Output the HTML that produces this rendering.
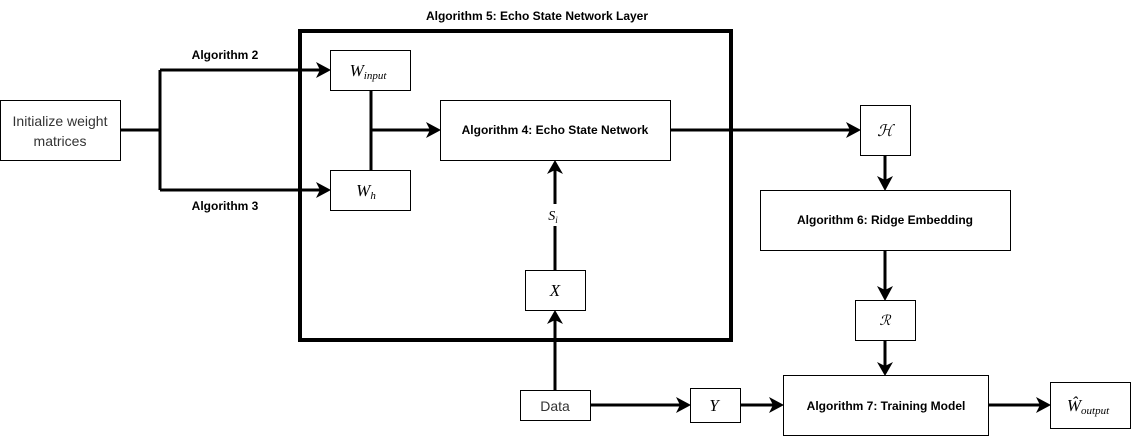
<!DOCTYPE html>
<html><head><meta charset="utf-8"><style>
html,body{margin:0;padding:0;background:#fff}
svg{display:block}
.b{font-family:"Liberation Sans",sans-serif;font-weight:bold;font-size:12px}
.n{font-family:"Liberation Sans",sans-serif;font-size:14px}
.m{font-family:"Liberation Serif",serif;font-style:italic}
</style></head><body>
<svg width="1131" height="436" viewBox="0 0 1131 436" xmlns="http://www.w3.org/2000/svg">
<defs><marker id="a" viewBox="0 0 10 10" refX="9" refY="5" markerWidth="4.5" markerHeight="4.5" orient="auto" markerUnits="userSpaceOnUse" ><path d="M0,0 L10,5 L0,10 L3,5 z" fill="#000"/></marker></defs>
<style>.l{stroke:#000;stroke-width:3;fill:none}.bx{fill:#fff;stroke:#000;stroke-width:1}</style>
<!-- big box -->
<rect x="300" y="31" width="431" height="309" fill="none" stroke="#000" stroke-width="4"/>
<text x="537" y="20" text-anchor="middle" class="b">Algorithm 5: Echo State Network Layer</text>
<!-- lines -->
<polyline class="l" points="121,130 160,130"/>
<polyline class="l" points="160,70 160,190"/>
<line class="l" x1="160" y1="70" x2="320" y2="70"/><path d="M316,62 L331,70 L316,78 L320,70z"/>
<line class="l" x1="160" y1="190" x2="320" y2="190"/><path d="M316,182 L331,190 L316,198 L320,190z"/>
<line class="l" x1="371" y1="90" x2="371" y2="170"/>
<line class="l" x1="371" y1="130" x2="430" y2="130"/><path d="M426,122 L441,130 L426,138 L430,130z"/>
<line class="l" x1="670" y1="130" x2="850" y2="130"/><path d="M846,122 L861,130 L846,138 L850,130z"/>
<line class="l" x1="885" y1="155" x2="885" y2="180"/><path d="M877,176 L885,191 L893,176 L885,180z"/>
<line class="l" x1="885" y1="250" x2="885" y2="290"/><path d="M877,286 L885,301 L893,286 L885,290z"/>
<line class="l" x1="885" y1="340" x2="885" y2="366"/><path d="M877,362 L885,376 L893,362 L885,366z"/>
<line class="l" x1="988" y1="405" x2="1040" y2="405"/><path d="M1036,397 L1051,405 L1036,413 L1040,405z"/>
<line class="l" x1="555" y1="390" x2="555" y2="320"/><path d="M547,324 L555,310 L563,324 L555,320z"/>
<line class="l" x1="555" y1="270" x2="555" y2="170"/><path d="M547,174 L555,160 L563,174 L555,170z"/>
<line class="l" x1="590" y1="405" x2="680" y2="405"/><path d="M676,397 L691,405 L676,413 L680,405z"/>
<line class="l" x1="740" y1="405" x2="773" y2="405"/><path d="M769,397 L784,405 L769,413 L773,405z"/>
<!-- S_i label -->
<rect x="546" y="204" width="18" height="22" fill="#fff"/>
<text x="553" y="220" text-anchor="middle" class="m" font-size="14">S<tspan font-size="9" dy="3">i</tspan></text>
<!-- boxes -->
<rect class="bx" x="0.5" y="100.5" width="120" height="60"/>
<text x="60" y="126" text-anchor="middle" class="n" fill="#333">Initialize weight</text>
<text x="60" y="146" text-anchor="middle" class="n" fill="#333">matrices</text>
<text x="225" y="59" text-anchor="middle" class="b">Algorithm 2</text>
<text x="225" y="210" text-anchor="middle" class="b">Algorithm 3</text>
<rect class="bx" x="330.5" y="50.5" width="80" height="40"/>
<text x="368" y="76" text-anchor="middle" class="m" font-size="17">W<tspan font-size="11" dy="3">input</tspan></text>
<rect class="bx" x="330.5" y="170.5" width="80" height="40"/>
<text x="366" y="196" text-anchor="middle" class="m" font-size="17">W<tspan font-size="11" dy="3">h</tspan></text>
<rect class="bx" x="440.5" y="100.5" width="230" height="60"/>
<text x="555" y="134" text-anchor="middle" class="b">Algorithm 4: Echo State Network</text>
<rect class="bx" x="860.5" y="105.5" width="50" height="50"/>
<text x="885" y="136" text-anchor="middle" class="m" font-size="16">ℋ</text>
<rect class="bx" x="760.5" y="190.5" width="250" height="60"/>
<text x="885" y="224" text-anchor="middle" class="b">Algorithm 6: Ridge Embedding</text>
<rect class="bx" x="855.5" y="300.5" width="60" height="40"/>
<text x="885" y="325" text-anchor="middle" class="m" font-size="14">ℛ</text>
<rect class="bx" x="783.5" y="375.5" width="205" height="60" stroke="#666"/>
<text x="886" y="410" text-anchor="middle" class="b">Algorithm 7: Training Model</text>
<rect class="bx" x="1050.5" y="382.5" width="80" height="46" stroke="#666"/>
<text x="1088" y="411" text-anchor="middle" class="m" font-size="17">Ŵ<tspan font-size="11" dy="3">output</tspan></text>
<rect class="bx" x="525.5" y="270.5" width="60" height="40"/>
<text x="555" y="296" text-anchor="middle" class="m" font-size="17">X</text>
<rect class="bx" x="520.5" y="390.5" width="70" height="30"/>
<text x="555" y="411" text-anchor="middle" class="n" fill="#333">Data</text>
<rect class="bx" x="690.5" y="388.5" width="50" height="34" stroke="#666"/>
<text x="714" y="411" text-anchor="middle" class="m" font-size="17">Y</text>
</svg>
</body></html>
